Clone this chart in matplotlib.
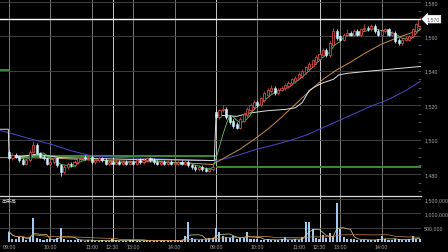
import numpy as np
import pandas as pd
import matplotlib
matplotlib.use('Agg')
import matplotlib.pyplot as plt
from matplotlib import font_manager as fm
from matplotlib.transforms import blended_transform_factory
from matplotlib.ticker import MultipleLocator

# ---------------- data (5-minute bars, two sessions) ----------------
opens = [1493, 1489, 1491, 1490, 1488, 1486, 1488, 1493, 1497, 1492,
         1490, 1489, 1486, 1487, 1489, 1485, 1481, 1484, 1486, 1485,
         1487, 1489, 1490, 1489, 1490, 1487, 1488, 1489, 1488, 1486,
         1487, 1486, 1487, 1486, 1487, 1486, 1487, 1486, 1488, 1487,
         1488, 1489, 1488, 1487, 1486, 1487, 1486, 1487, 1486, 1486,
         1487, 1486, 1487, 1485, 1484, 1483, 1484, 1483, 1482, 1483,
         1516, 1513, 1517, 1518, 1513, 1511, 1509, 1507, 1511, 1514,
         1517, 1519, 1522, 1520, 1523, 1526, 1528, 1530, 1527, 1529,
         1530, 1531, 1533, 1534, 1536, 1537, 1539, 1541, 1543, 1545,
         1547, 1549, 1552, 1549, 1555, 1563, 1560, 1558, 1561, 1562,
         1561, 1563, 1561, 1564, 1565, 1564, 1566, 1563, 1561, 1563,
         1564, 1561, 1562, 1558, 1556, 1558, 1558, 1560, 1563, 1566]
highs = [1494, 1492, 1492, 1491, 1489, 1489, 1494, 1499, 1498, 1493,
         1491, 1490, 1488, 1490, 1490, 1486, 1485, 1487, 1487, 1488,
         1490, 1491, 1491, 1491, 1491, 1489, 1490, 1490, 1489, 1488,
         1488, 1488, 1488, 1488, 1488, 1488, 1488, 1489, 1489, 1489,
         1490, 1490, 1489, 1488, 1488, 1488, 1488, 1488, 1487, 1488,
         1488, 1488, 1488, 1486, 1485, 1485, 1485, 1484, 1484, 1485,
         1518, 1518, 1520, 1519, 1514, 1512, 1510, 1513, 1516, 1519,
         1521, 1523, 1523, 1525, 1528, 1530, 1532, 1531, 1530, 1531,
         1533, 1534, 1536, 1537, 1539, 1541, 1543, 1545, 1547, 1549,
         1551, 1553, 1553, 1557, 1565, 1564, 1561, 1562, 1564, 1563,
         1564, 1564, 1565, 1567, 1566, 1567, 1567, 1564, 1564, 1565,
         1565, 1563, 1563, 1559, 1559, 1560, 1561, 1565, 1568, 1571]
lows = [1488, 1488, 1489, 1487, 1485, 1485, 1487, 1492, 1491, 1489,
        1488, 1485, 1485, 1486, 1484, 1479, 1480, 1483, 1484, 1484,
        1486, 1488, 1488, 1488, 1486, 1486, 1487, 1487, 1485, 1485,
        1485, 1485, 1485, 1485, 1485, 1485, 1485, 1485, 1486, 1486,
        1487, 1487, 1486, 1485, 1485, 1485, 1485, 1485, 1485, 1485,
        1485, 1485, 1484, 1483, 1482, 1482, 1482, 1481, 1481, 1482,
        1512, 1512, 1516, 1512, 1509, 1507, 1506, 1506, 1510, 1513,
        1516, 1518, 1519, 1519, 1522, 1525, 1527, 1526, 1526, 1528,
        1529, 1530, 1532, 1533, 1535, 1536, 1538, 1540, 1542, 1544,
        1546, 1548, 1548, 1548, 1554, 1558, 1557, 1557, 1560, 1560,
        1560, 1560, 1560, 1563, 1563, 1563, 1562, 1560, 1560, 1562,
        1560, 1560, 1556, 1555, 1555, 1557, 1557, 1559, 1562, 1565]
closes = [1489, 1491, 1490, 1488, 1486, 1488, 1493, 1497, 1492, 1490,
          1489, 1486, 1487, 1489, 1485, 1481, 1484, 1486, 1485, 1487,
          1489, 1490, 1489, 1490, 1487, 1488, 1489, 1488, 1486, 1487,
          1486, 1487, 1486, 1487, 1486, 1487, 1486, 1488, 1487, 1488,
          1489, 1488, 1487, 1486, 1487, 1486, 1487, 1486, 1486, 1487,
          1486, 1487, 1485, 1484, 1483, 1484, 1483, 1482, 1483, 1484,
          1513, 1517, 1518, 1513, 1510, 1508, 1507, 1512, 1515, 1518,
          1520, 1522, 1520, 1524, 1527, 1529, 1530, 1527, 1529, 1530,
          1532, 1533, 1535, 1536, 1538, 1540, 1542, 1544, 1546, 1548,
          1550, 1552, 1549, 1556, 1563, 1559, 1558, 1561, 1562, 1561,
          1563, 1561, 1564, 1565, 1564, 1566, 1563, 1561, 1563, 1564,
          1561, 1562, 1557, 1556, 1558, 1559, 1560, 1564, 1567, 1570]
volumes = [360000, 120000, 100000, 170000, 160000, 80000, 190000, 840000, 150000, 90000,
           70000, 110000, 90000, 60000, 130000, 480000, 120000, 80000, 60000, 70000,
           90000, 60000, 50000, 70000, 60000, 40000, 50000, 60000, 40000, 50000,
           90000, 60000, 50000, 40000, 50000, 60000, 70000, 50000, 40000, 50000,
           60000, 40000, 50000, 40000, 60000, 50000, 40000, 50000, 60000, 70000,
           80000, 220000, 710000, 150000, 90000, 80000, 100000, 120000, 150000, 130000,
           500000, 350000, 220000, 180000, 150000, 200000, 120000, 150000, 140000, 360000,
           120000, 100000, 90000, 80000, 70000, 90000, 60000, 80000, 70000, 90000,
           170000, 80000, 70000, 90000, 80000, 170000, 710000, 710000, 450000, 150000,
           120000, 240000, 150000, 300000, 200000, 1360000, 450000, 180000, 120000, 100000,
           90000, 80000, 70000, 80000, 60000, 70000, 80000, 90000, 200000, 100000,
           80000, 70000, 110000, 90000, 70000, 80000, 90000, 200000, 120000, 100000]

# moving-average / VWAP lines (bar index, price)
ma25_x = [-2.6, 5, 15, 25, 35, 45, 55, 59, 63, 67, 71, 75, 79, 83, 87, 91, 95, 99, 103, 108, 113, 119.4]
ma25_y = [1489.5, 1489.5, 1489, 1488, 1487.3, 1487, 1486, 1485.5, 1490, 1494.5, 1500, 1506, 1513,
          1520.5, 1528, 1535, 1540.5, 1545, 1550, 1555.5, 1559.5, 1564]
ma75_x = [-2.6, 0, 6, 12, 18, 24, 30, 40, 50, 60, 63, 67, 72, 77, 82, 86, 90, 95, 100, 105, 110, 115, 119.4]
ma75_y = [1505.2, 1504, 1500.5, 1497.4, 1493.5, 1490.5, 1489.8, 1489, 1488.3, 1487.8, 1489, 1491.3,
          1494.5, 1497, 1499.8, 1502.5, 1506, 1510.5, 1515, 1519.5, 1523.3, 1528.5, 1534]
vwap_x = [-2.6, -0.2, 0, 3, 8, 15, 25, 35, 45, 59.5, 60, 62, 66, 70, 75, 80, 83, 85, 87, 88.5,
          91, 94, 95.5, 98, 103, 110, 119.4]
vwap_y = [1506, 1506, 1491, 1490, 1491.5, 1489.5, 1489, 1488.5, 1488.3, 1487.8, 1514, 1514, 1513.5,
          1515.5, 1516.8, 1517.5, 1518.5, 1521.5, 1528.5, 1530.5, 1533, 1535, 1537.5, 1538.5,
          1539.5, 1540.8, 1542.5]
prev_close_from = [-2.6, 0, 60]
prev_close_to = [0, 60, 119.4]
prev_close = [1540.5, 1490.6, 1484]
last_price = 1570

tick_pos = [0, 12, 24, 30, 36, 48, 60, 72, 84, 90, 96, 108]
tick_labels = ['09:00', '10:00', '11:00', '12:30', '13:00', '14:00',
               '09:00', '10:00', '11:00', '12:30', '13:00', '14:00']
grid_pos = [0, 12, 24, 30, 36, 48, 60, 72, 90, 96, 108]
bright_grid = [30, 60, 90]
price_ticks = [1480, 1500, 1520, 1540, 1560, 1580]
vol_ticks = [500000, 1000000, 1500000]


def pick(names):
    for n in names:
        try:
            fm.findfont(fm.FontProperties(family=n), fallback_to_default=False)
            return n
        except Exception:
            pass
    return 'DejaVu Sans'


num_font = pick(['Liberation Sans Narrow', 'DejaVu Sans Condensed', 'Liberation Sans'])
fs = 4.6 if num_font == 'Liberation Sans Narrow' else 3.8
cjk_font = pick(['Noto Sans CJK JP', 'Noto Sans CJK SC'])

# ---------------- figure ----------------
W, H = 448, 253
fig = plt.figure(figsize=(W / 100, H / 100), dpi=100, facecolor='black')
ax = fig.add_axes([0, 56 / H, 421 / W, 197 / H], facecolor='black')
axv = fig.add_axes([0, 10 / H, 421 / W, 46 / H], facecolor='black', sharex=ax)

x = np.arange(len(closes))
o = np.array(opens, float)
h = np.array(highs, float)
l = np.array(lows, float)
c = np.array(closes, float)
up = c >= o
up_col = '#d04848'
dn_col = '#cdeeff'

# grid
for t in grid_pos:
    col = '#c8c8c8' if t in bright_grid else '#787878'
    ax.axvline(t, color=col, lw=0.7, zorder=0)
    axv.axvline(t, color=col, lw=0.7, zorder=0)
for p in price_ticks:
    ax.axhline(p, color='#484848', lw=0.6, zorder=0)
for v in vol_ticks:
    axv.axhline(v, color='#484848', lw=0.6, zorder=0)

# previous close lines
ax.hlines(prev_close, prev_close_from, prev_close_to, color='#3a8a3a', lw=1.4, zorder=1)

# moving averages
ax.plot(ma75_x, ma75_y, color='#4a4ad0', lw=0.7, zorder=2)
ax.plot(ma25_x, ma25_y, color='#d08a48', lw=0.7, zorder=2)
ax.plot(vwap_x, vwap_y, color='#e0e0e0', lw=0.7, zorder=2)
ma5 = pd.Series(c).rolling(5, min_periods=1).mean()
ax.plot(x, ma5, color='#5ccc5c', lw=0.6, zorder=2)

# candles
ax.vlines(x[up], l[up], h[up], color=up_col, lw=0.6, zorder=3)
ax.vlines(x[~up], l[~up], h[~up], color=dn_col, lw=0.6, zorder=3)
body_lo = np.minimum(o, c)
body_h = np.maximum(np.abs(c - o), 0.3)
ax.bar(x[up], body_h[up], bottom=body_lo[up], width=0.62, facecolor='black',
       edgecolor=up_col, lw=0.6, zorder=4)
ax.bar(x[~up], body_h[~up], bottom=body_lo[~up], width=0.62, facecolor=dn_col,
       edgecolor=dn_col, lw=0.4, zorder=4)

# last price line + tag
ax.axhline(last_price, color='white', lw=1.0, zorder=5)
tr = blended_transform_factory(ax.transAxes, ax.transData)
ax.text(1.012, last_price, f'{last_price:,}', transform=tr, ha='left', va='center',
        fontsize=fs, family=num_font, color='#555555', clip_on=False,
        bbox=dict(boxstyle='larrow,pad=0.25', fc='white', ec='white', lw=0.5))

# volume
axv.bar(x, volumes, width=0.6, color='#9cc8f4', zorder=3)
vs = pd.Series(volumes, dtype=float)
axv.plot(x, vs.rolling(5, min_periods=1).mean(), color='#d8d890', lw=0.5, zorder=4)
axv.plot(x, vs.rolling(25, min_periods=1).mean(), color='#d08a48', lw=0.5, zorder=4)
axv.text(0.003, 0.97, '出来高', transform=axv.transAxes, fontsize=3.6, family=cjk_font,
         color='#d0d0d0', ha='left', va='top')

# axes limits / ticks
ax.set_xlim(-2.61, 119.42)
ax.set_ylim(1467.2, 1581.7)
axv.set_ylim(0, 1605000)

for a in (ax, axv):
    for s in a.spines.values():
        s.set_visible(False)
axv.spines['top'].set_visible(True)
axv.spines['top'].set_color('#d8d8d8')
axv.spines['top'].set_linewidth(0.9)

ax.yaxis.tick_right()
ax.set_yticks(price_ticks)
ax.set_yticklabels([f'{p:,}' for p in price_ticks])
ax.yaxis.set_minor_locator(MultipleLocator(5))
ax.tick_params(axis='y', which='major', colors='#a8a8a8', labelsize=fs, length=0, pad=2.2)
ax.tick_params(axis='y', which='minor', colors='#707070', length=2, direction='in', width=0.5)
ax.tick_params(axis='x', which='both', length=0, labelbottom=False)
for lab in ax.get_yticklabels():
    lab.set_family(num_font)

axv.yaxis.tick_right()
axv.set_yticks(vol_ticks)
axv.set_yticklabels([f'{v:,}' for v in vol_ticks])
axv.tick_params(axis='y', colors='#a8a8a8', labelsize=fs, length=0, pad=2.2)
axv.set_xticks(tick_pos)
axv.set_xticklabels(tick_labels)
axv.tick_params(axis='x', colors='#a8a8a8', labelsize=fs, length=0, pad=1.2)
for lab in axv.get_yticklabels() + axv.get_xticklabels():
    lab.set_family(num_font)

fig.savefig('out.png', dpi=100, facecolor='black')
